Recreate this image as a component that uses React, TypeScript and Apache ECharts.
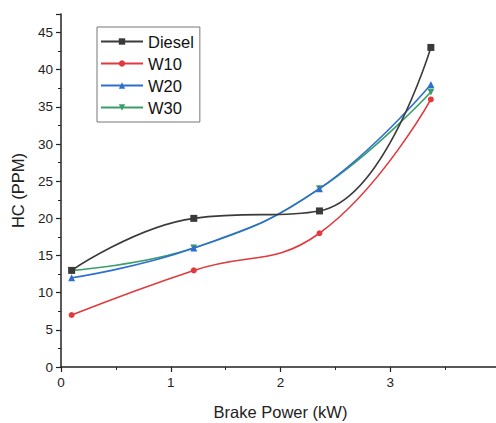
import React, { useEffect, useRef } from "react";
import * as echarts from "echarts";

const brakePower = [0.097, 1.21, 2.355, 3.37];
const diesel = [13, 20, 21, 43];
const w10 = [7, 13, 18, 36];
const w20 = [12, 16, 24, 38];
const w30 = [13, 16, 24, 37];
const seriesNames = ["Diesel", "W10", "W20", "W30"];
const xTicks = [0, 1, 2, 3, 4];
const yTicks = [0, 5, 10, 15, 20, 25, 30, 35, 40, 45];

const colors = ["#3a3a3a", "#e03a3e", "#2e6fd0", "#3a9e6a"];
const symbols = ["rect", "circle", "triangle", "path://M0,0 L10,0 L5,9 Z"];

export default function App() {
  const ref = useRef<HTMLDivElement>(null);
  useEffect(() => {
    document.body.style.margin = "0";
    const chart = echarts.init(ref.current!, null, { renderer: "svg" });
    const all = [diesel, w10, w20, w30];
    const font = "Liberation Sans, Arial, sans-serif";
    chart.setOption({
      animation: false,
      backgroundColor: "#fff",
      textStyle: { fontFamily: font },
      grid: { left: 61, top: 14, right: -4, bottom: 56, containLabel: false, outerBoundsMode: "none" },
      legend: {
        left: 97,
        top: 27,
        orient: "vertical",
        data: seriesNames,
        itemWidth: 42,
        itemHeight: 8,
        itemGap: 5,
        padding: [6, 6, 6, 3],
        borderColor: "#777",
        borderWidth: 1,
        textStyle: { fontSize: 16.5, color: "#111", fontFamily: font },
      },
      xAxis: {
        type: "value",
        min: 0,
        max: 4,
        interval: 1,
        name: "Brake Power (kW)",
        nameLocation: "middle",
        nameGap: 36,
        nameTextStyle: { fontSize: 16.5, color: "#222" },
        axisLine: { show: true, lineStyle: { color: "#222", width: 1.5 } },
        axisTick: { show: true, length: 5, lineStyle: { color: "#222", width: 1.2 } },
        minorTick: { show: true, splitNumber: 2, length: 3, lineStyle: { color: "#222" } },
        splitLine: { show: false },
        axisLabel: {
          fontSize: 13.5,
          color: "#222",
          margin: 8,
          formatter: (v: number) => (xTicks.includes(v) ? String(v) : ""),
        },
      },
      yAxis: {
        type: "value",
        min: 0,
        max: 47.5,
        interval: 5,
        name: "HC (PPM)",
        nameLocation: "middle",
        nameGap: 35,
        nameTextStyle: { fontSize: 16.5, color: "#222" },
        axisLine: { show: true, lineStyle: { color: "#222", width: 1.5 } },
        axisTick: { show: true, length: 5, lineStyle: { color: "#222", width: 1.2 } },
        minorTick: { show: true, splitNumber: 2, length: 3, lineStyle: { color: "#222" } },
        splitLine: { show: false },
        axisLabel: {
          fontSize: 13.5,
          color: "#222",
          margin: 8,
          formatter: (v: number) => (yTicks.includes(v) ? String(v) : ""),
        },
      },
      series: seriesNames.map((name, i) => ({
        name,
        type: "line",
        smooth: 0.45,
        data: brakePower.map((x, j) => [x, all[i][j]]),
        symbol: symbols[i],
        symbolSize: i === 1 ? 6 : 7,
        showSymbol: true,
        itemStyle: { color: colors[i] },
        lineStyle: { color: colors[i], width: 1.6 },
        z: 10 - i,
      })),
    });
    return () => chart.dispose();
  }, []);
  return <div ref={ref} style={{ position: "absolute", left: 0, top: 0, width: 496, height: 423 }} />;
}
